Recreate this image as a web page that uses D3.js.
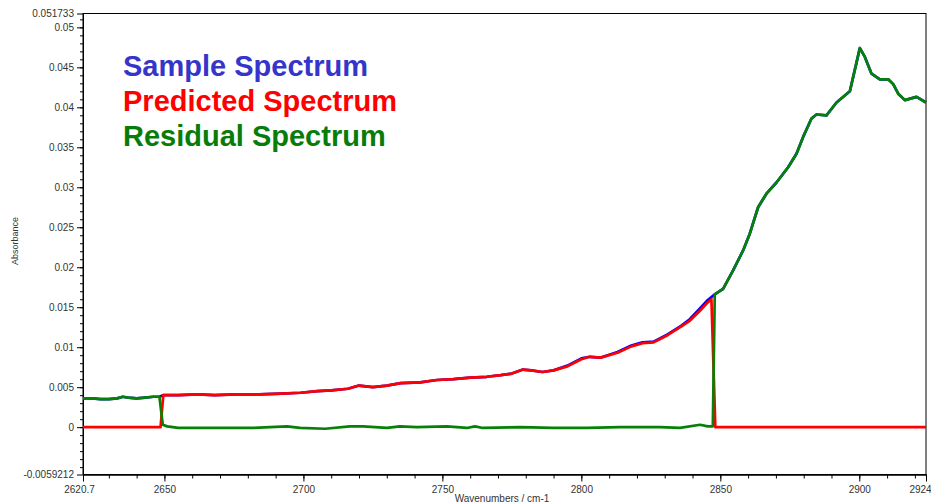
<!DOCTYPE html>
<meta charset="utf-8">
<style>
body { margin: 0; background: #fff; }
svg { font-family: "Liberation Sans", Arial, sans-serif; }
.axis text { fill: #333; font-size: 10px; }
.axis path, .axis line { stroke: #000; }
.line { fill: none; stroke-width: 2.7px; stroke-linejoin: round; }
.legend { font-weight: bold; font-size: 29px; }
</style>
<body>
<script src="https://d3js.org/d3.v7.min.js"></script>
<script>

// spectra: [wavenumber, absorbance]
var sample = [
  [2620.7,0.0036],[2624,0.0036],[2627,0.0035],[2630,0.0035],[2633,0.0036],[2635,0.0038],
  [2637,0.0037],[2640,0.0036],[2643,0.0037],[2646,0.0038],[2648.2,0.0038],
  [2649.5,0.0040],[2655,0.0040],[2662,0.0041],[2668,0.0040],[2676,0.0041],[2684,0.0041],
  [2692,0.0042],[2699,0.0043],[2705,0.0045],[2710,0.0046],[2716,0.0048],[2720,0.0052],
  [2725,0.0050],[2730,0.0052],[2735,0.0055],[2742,0.0056],[2748,0.0059],[2754,0.0060],
  [2760,0.0062],[2766,0.0063],[2771,0.0065],[2775,0.0067],[2779,0.0072],[2782,0.0071],
  [2786,0.0069],[2790,0.0071],[2795,0.0077],[2800,0.0086],[2803,0.0088],[2807,0.0087],
  [2813,0.0094],[2818,0.0102],[2822,0.0106],[2826,0.0107],[2831,0.0116],[2836,0.0127],
  [2839,0.0135],[2842.5,0.0148],[2845.5,0.0159],[2848,0.0166],
  [2851,0.0173],[2854.6,0.0196],[2858.2,0.0221],[2860.6,0.0242],[2863.6,0.0275],[2866.6,0.0292],
  [2870.2,0.0306],[2874.4,0.0325],[2877.4,0.0342],[2879.8,0.0363],[2882.8,0.0386],[2884.6,0.0391],
  [2888.2,0.0390],[2891.8,0.0406],[2896.6,0.0420],[2900.2,0.0474],[2902,0.0463],[2904.4,0.0442],
  [2907.4,0.0435],[2910.4,0.0435],[2912.2,0.0429],[2914,0.0417],[2916.4,0.0409],[2920.6,0.0413],
  [2924,0.0406]
];

var predicted = [
  [2620.7,0],[2648.6,0],[2649.6,0.0040],[2655,0.0040],[2662,0.0041],[2668,0.0040],[2676,0.0041],
  [2684,0.0041],[2692,0.0042],[2699,0.0043],[2705,0.0045],[2710,0.0046],[2716,0.0048],
  [2720,0.0052],[2725,0.0050],[2730,0.0052],[2735,0.0055],[2742,0.0056],[2748,0.0059],
  [2754,0.0060],[2760,0.0062],[2766,0.0063],[2771,0.0065],[2775,0.0067],[2779,0.0072],
  [2782,0.0071],[2786,0.0069],[2790,0.0071],[2795,0.0076],[2800,0.0085],[2803,0.0088],
  [2807,0.0087],[2813,0.0093],[2818,0.0101],[2822,0.0105],[2826,0.0106],[2831,0.0115],
  [2836,0.0126],[2839,0.0133],[2842.5,0.0145],[2845.5,0.0156],[2846.8,0.0160],[2848.2,0],
  [2924,0]
];

var residual = [
  [2620.7,0.0036],[2624,0.0036],[2627,0.0035],[2630,0.0035],[2633,0.0036],[2635,0.0038],
  [2637,0.0037],[2640,0.0036],[2643,0.0037],[2646,0.0038],[2648.2,0.0038],
  [2649.4,0.0003],[2651,0.0001],[2655,-0.0001],[2662.8,-0.0001],[2674.3,-0.0001],[2681.9,-0.0001],
  [2688,0.0000],[2694.1,0.0001],[2698.8,-0.0001],[2707.8,-0.0002],[2716.7,0.0001],[2721.4,0.0001],
  [2730.1,-0.0001],[2734.7,0.0001],[2740.8,0.0000],[2751.6,0.0001],[2758.8,-0.0001],[2761.7,0.0001],
  [2764.6,-0.0001],[2777.9,0.0000],[2789.8,-0.0001],[2802,-0.0001],[2813.9,0.0000],[2828.3,0.0000],
  [2835.5,-0.0001],[2842.7,0.0003],[2845.5,0.0001],[2847.3,0.0001],[2848,0.0166],
  [2851,0.0173],[2854.6,0.0196],[2858.2,0.0221],[2860.6,0.0242],[2863.6,0.0275],[2866.6,0.0292],
  [2870.2,0.0306],[2874.4,0.0325],[2877.4,0.0342],[2879.8,0.0363],[2882.8,0.0386],[2884.6,0.0391],
  [2888.2,0.0390],[2891.8,0.0406],[2896.6,0.0420],[2900.2,0.0474],[2902,0.0463],[2904.4,0.0442],
  [2907.4,0.0435],[2910.4,0.0435],[2912.2,0.0429],[2914,0.0417],[2916.4,0.0409],[2920.6,0.0413],
  [2924,0.0406]
];

// axis labels
var xTicks = [2620.7, 2650, 2700, 2750, 2800, 2850, 2900, 2924];
var yTicks = [-0.0059212, 0, 0.005, 0.01, 0.015, 0.02, 0.025, 0.03, 0.035, 0.04, 0.045, 0.05, 0.051733];
var legendNames = ["Sample Spectrum", "Predicted Spectrum", "Residual Spectrum"];
var legendColors = ["#3535cc", "#ff0000", "#087c08"];

var width = 931, height = 503;
var plotLeft = 83, plotRight = 926, plotTop = 13.5, plotBottom = 474.5;

var x = d3.scaleLinear().domain([2620.7, 2924]).range([plotLeft, plotRight]);
var y = d3.scaleLinear().domain([-0.0059212, 0.051733]).range([plotBottom, plotTop]);

var svg = d3.select("body").append("svg")
    .attr("width", width)
    .attr("height", height);

// frame
svg.append("rect")
    .attr("x", plotLeft).attr("y", plotTop)
    .attr("width", plotRight - plotLeft).attr("height", plotBottom - plotTop)
    .attr("fill", "none").attr("stroke", "#000");

// minor ticks
svg.append("g")
    .attr("class", "axis")
    .attr("transform", "translate(" + plotLeft + ",0)")
    .call(d3.axisLeft(y).tickValues(d3.range(-0.005, 0.0515, 0.001)).tickSize(3).tickSizeOuter(0).tickFormat(""));
svg.append("g")
    .attr("class", "axis")
    .attr("transform", "translate(0," + plotBottom + ")")
    .call(d3.axisBottom(x).tickValues(d3.range(2630, 2921, 10)).tickSize(4).tickSizeOuter(0).tickFormat(""));

// major ticks
svg.append("g")
    .attr("class", "axis")
    .attr("transform", "translate(" + plotLeft + ",0)")
    .call(d3.axisLeft(y).tickValues(yTicks).tickSize(6).tickSizeOuter(0).tickPadding(3)
      .tickFormat(function(d) { return String(+d.toFixed(7)); }));

var xAxis = svg.append("g")
    .attr("class", "axis")
    .attr("transform", "translate(0," + plotBottom + ")")
    .call(d3.axisBottom(x).tickValues(xTicks).tickSize(7).tickSizeOuter(0).tickPadding(4)
      .tickFormat(function(d) { return String(d); }));
xAxis.selectAll("text").attr("dx", function(d, i) {
  return i == 0 ? -4 : (i == xTicks.length - 1 ? -6 : 0);
});

// axis titles
svg.append("text")
    .attr("transform", "translate(18,241) rotate(-90)")
    .attr("text-anchor", "middle")
    .style("font-size", "9px").style("fill", "#333")
    .text("Absorbance");
svg.append("text")
    .attr("x", 502).attr("y", 502)
    .attr("text-anchor", "middle")
    .style("font-size", "10px").style("fill", "#333")
    .text("Wavenumbers / cm-1");

// spectra
var line = d3.line()
    .x(function(d) { return x(d[0]); })
    .y(function(d) { return y(d[1]); });

svg.append("path").datum(sample).attr("class", "line").style("stroke", "#0000ff").attr("d", line);
svg.append("path").datum(predicted).attr("class", "line").style("stroke", "#ff0000").attr("d", line);
svg.append("path").datum(residual).attr("class", "line").style("stroke", "#078007").attr("d", line);

// legend
legendNames.forEach(function(name, i) {
  svg.append("text")
      .attr("class", "legend")
      .attr("x", 123).attr("y", 76 + i * 35)
      .style("fill", legendColors[i])
      .text(name);
});

</script>
</body>
